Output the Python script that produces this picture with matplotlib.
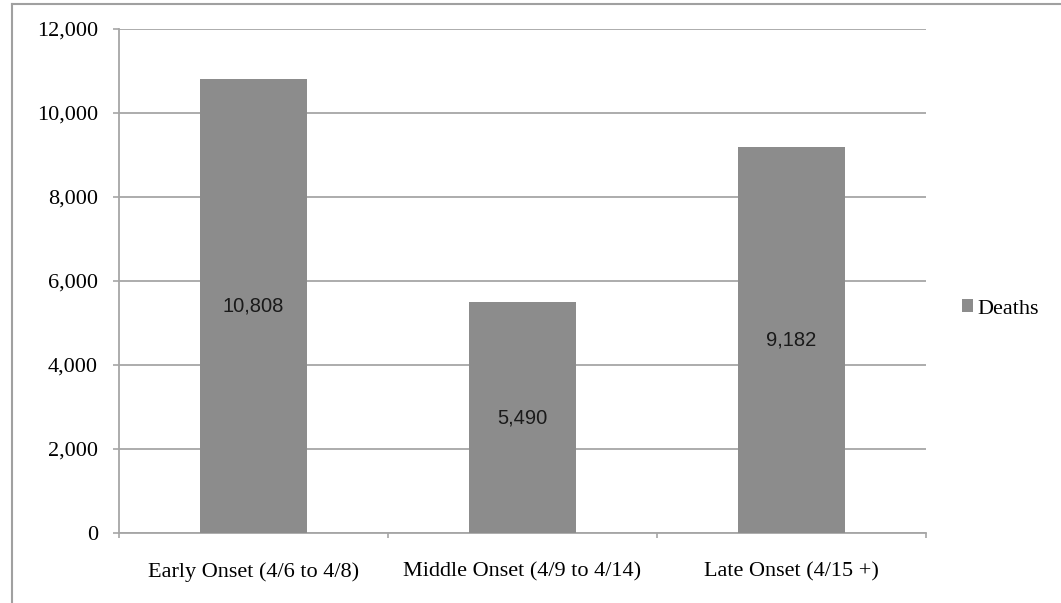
import matplotlib
matplotlib.use('Agg')
import matplotlib.pyplot as plt
from matplotlib.lines import Line2D

categories = ['Early Onset (4/6 to 4/8)', 'Middle Onset (4/9 to 4/14)', 'Late Onset (4/15 +)']
deaths = [10808, 5490, 9182]
value_labels = ['10,808', '5,490', '9,182']
yticks = [0, 2000, 4000, 6000, 8000, 10000, 12000]
ytick_labels = ['0', '2,000', '4,000', '6,000', '8,000', '10,000', '12,000']

bar_color = '#8c8c8c'
line_color = '#a6a6a6'
serif = 'Liberation Serif'
sans = 'Liberation Sans'

fig = plt.figure(figsize=(10.61, 6.03), dpi=100)
ax = fig.add_axes([119/1061, 1 - 533/603, (926 - 119)/1061, (533 - 29)/603])

x = range(len(categories))
bars = ax.bar(x, deaths, width=0.4, color=bar_color, zorder=3, label='Deaths')

for xi, v, lab in zip(x, deaths, value_labels):
    ax.text(xi, v / 2, lab, ha='center', va='center', fontsize=14.5,
            family=sans, color='#1a1a1a', zorder=4)

ax.set_xlim(-0.5, 2.5)
ax.set_ylim(0, 12000)
ax.set_yticks(yticks)
ax.set_yticklabels(ytick_labels, family=serif, fontsize=16)
ax.set_xticks(x)
ax.set_xticklabels(categories, family=serif, fontsize=16)
ax.set_xticks([-0.5, 0.5, 1.5, 2.5], minor=True)

ax.tick_params(axis='y', length=4.3, width=1.2, color=line_color, pad=11)
ax.tick_params(axis='x', which='major', length=0, pad=21)
ax.tick_params(axis='x', which='minor', length=3.8, width=1.2, color=line_color)

ax.yaxis.grid(True, color=line_color, linewidth=1.3, zorder=0)
for s in ['top', 'right']:
    ax.spines[s].set_visible(False)
for s in ['left', 'bottom']:
    ax.spines[s].set_color(line_color)
    ax.spines[s].set_linewidth(1.3)

ax.legend(handles=[bars], labels=['Deaths'], loc='center left',
          bbox_to_anchor=(942/1061, 1 - 309/603), bbox_transform=fig.transFigure,
          frameon=False, handlelength=0.5, handleheight=0.5, handletextpad=0.2,
          prop={'family': serif, 'size': 16})

# outer chart border (top and left only visible)
fig.add_artist(Line2D([12/1061, 1], [1 - 4/603, 1 - 4/603], transform=fig.transFigure,
                      color='#a0a0a0', linewidth=1.5))
fig.add_artist(Line2D([12/1061, 12/1061], [0, 1 - 4/603], transform=fig.transFigure,
                      color='#a0a0a0', linewidth=1.5))

fig.savefig('out.png', dpi=100)
